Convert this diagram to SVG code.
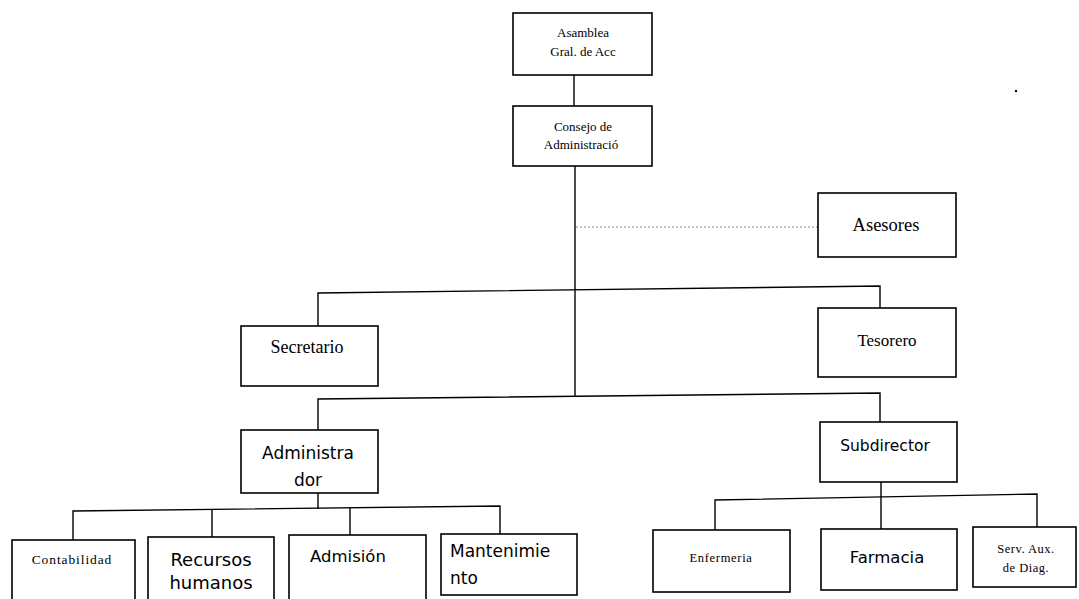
<svg xmlns="http://www.w3.org/2000/svg" width="1079" height="599" viewBox="0 0 1079 599">
<style>
.box{fill:#fff;stroke:#000;stroke-width:1.6}
.ln{fill:none;stroke:#000;stroke-width:1.4}
.dot{fill:none;stroke:#888;stroke-width:1;stroke-dasharray:2 2}
.s{font-family:"Liberation Serif","Times New Roman",serif;fill:#000;text-anchor:middle}
.ss{font-family:"DejaVu Sans","Liberation Sans",sans-serif;fill:#000;text-anchor:middle}
.st{text-anchor:start}
</style>
<rect width="1079" height="599" fill="#fff"/>
<g id="connectors">
<path class="ln" d="M574 75 V106"/>
<path class="ln" d="M575 166 V397"/>
<path class="dot" d="M576 227 H818"/>
<path class="ln" d="M318 326 V293 L880 286 V308"/>
<path class="ln" d="M318 430 V399 L880 393 V422"/>
<path class="ln" d="M318 493 V509"/>
<path class="ln" d="M73 540 V511 L500 506 V534"/>
<path class="ln" d="M212 537 V510"/>
<path class="ln" d="M350 535 V508"/>
<path class="ln" d="M881 482 V529"/>
<path class="ln" d="M715 530 V500 L1037 494 V527"/>
</g>
<g id="asamblea"><rect class="box" x="513" y="13" width="139" height="62"/><text class="s" font-size="13" x="583" y="37">Asamblea</text><text class="s" font-size="13" x="583" y="56">Gral. de Acc</text></g>
<g id="consejo"><rect class="box" x="513" y="106" width="139" height="60"/><text class="s" font-size="13" x="583" y="131">Consejo de</text><text class="s" font-size="13" x="581" y="149">Administració</text></g>
<g id="asesores"><rect class="box" x="818" y="193" width="138" height="64"/><text class="s" font-size="18.5" x="886" y="231">Asesores</text></g>
<g id="secretario"><rect class="box" x="241" y="326" width="137" height="60"/><text class="s" font-size="18" x="307" y="353">Secretario</text></g>
<g id="tesorero"><rect class="box" x="818" y="308" width="138" height="69"/><text class="s" font-size="17" x="887" y="346">Tesorero</text></g>
<g id="administrador"><rect class="box" x="241" y="430" width="137" height="63"/><text class="ss" font-size="17" x="308" y="459">Administra</text><text class="ss" font-size="17" x="308" y="486">dor</text></g>
<g id="subdirector"><rect class="box" x="820" y="422" width="137" height="60"/><text class="ss" font-size="15.5" x="885" y="451">Subdirector</text></g>
<g id="contabilidad"><rect class="box" x="12" y="540" width="123" height="64"/><text class="s" font-size="13.5" letter-spacing="0.9" x="72" y="564">Contabilidad</text></g>
<g id="recursos"><rect class="box" x="148" y="537" width="126" height="67"/><text class="ss" font-size="18" x="211" y="566">Recursos</text><text class="ss" font-size="18" x="211" y="589">humanos</text></g>
<g id="admision"><rect class="box" x="289" y="535" width="137" height="67"/><text class="ss" font-size="16.5" x="348" y="562">Admisión</text></g>
<g id="mantenimiento"><rect class="box" x="441" y="534" width="136" height="61"/><text class="ss st" font-size="17" x="450" y="557">Mantenimie</text><text class="ss st" font-size="17" x="450" y="584">nto</text></g>
<g id="enfermeria"><rect class="box" x="653" y="530" width="137" height="62"/><text class="s" font-size="12.5" letter-spacing="0.7" x="721" y="562">Enfermeria</text></g>
<g id="farmacia"><rect class="box" x="821" y="529" width="136" height="61"/><text class="ss" font-size="16.5" x="887" y="563">Farmacia</text></g>
<g id="servaux"><rect class="box" x="973" y="527" width="103" height="60"/><text class="s" font-size="12.5" letter-spacing="0.5" x="1026" y="553">Serv. Aux.</text><text class="s" font-size="12.5" letter-spacing="0.5" x="1026" y="572">de Diag.</text></g>
<circle cx="1016" cy="91" r="1.2" fill="#000"/>
</svg>
